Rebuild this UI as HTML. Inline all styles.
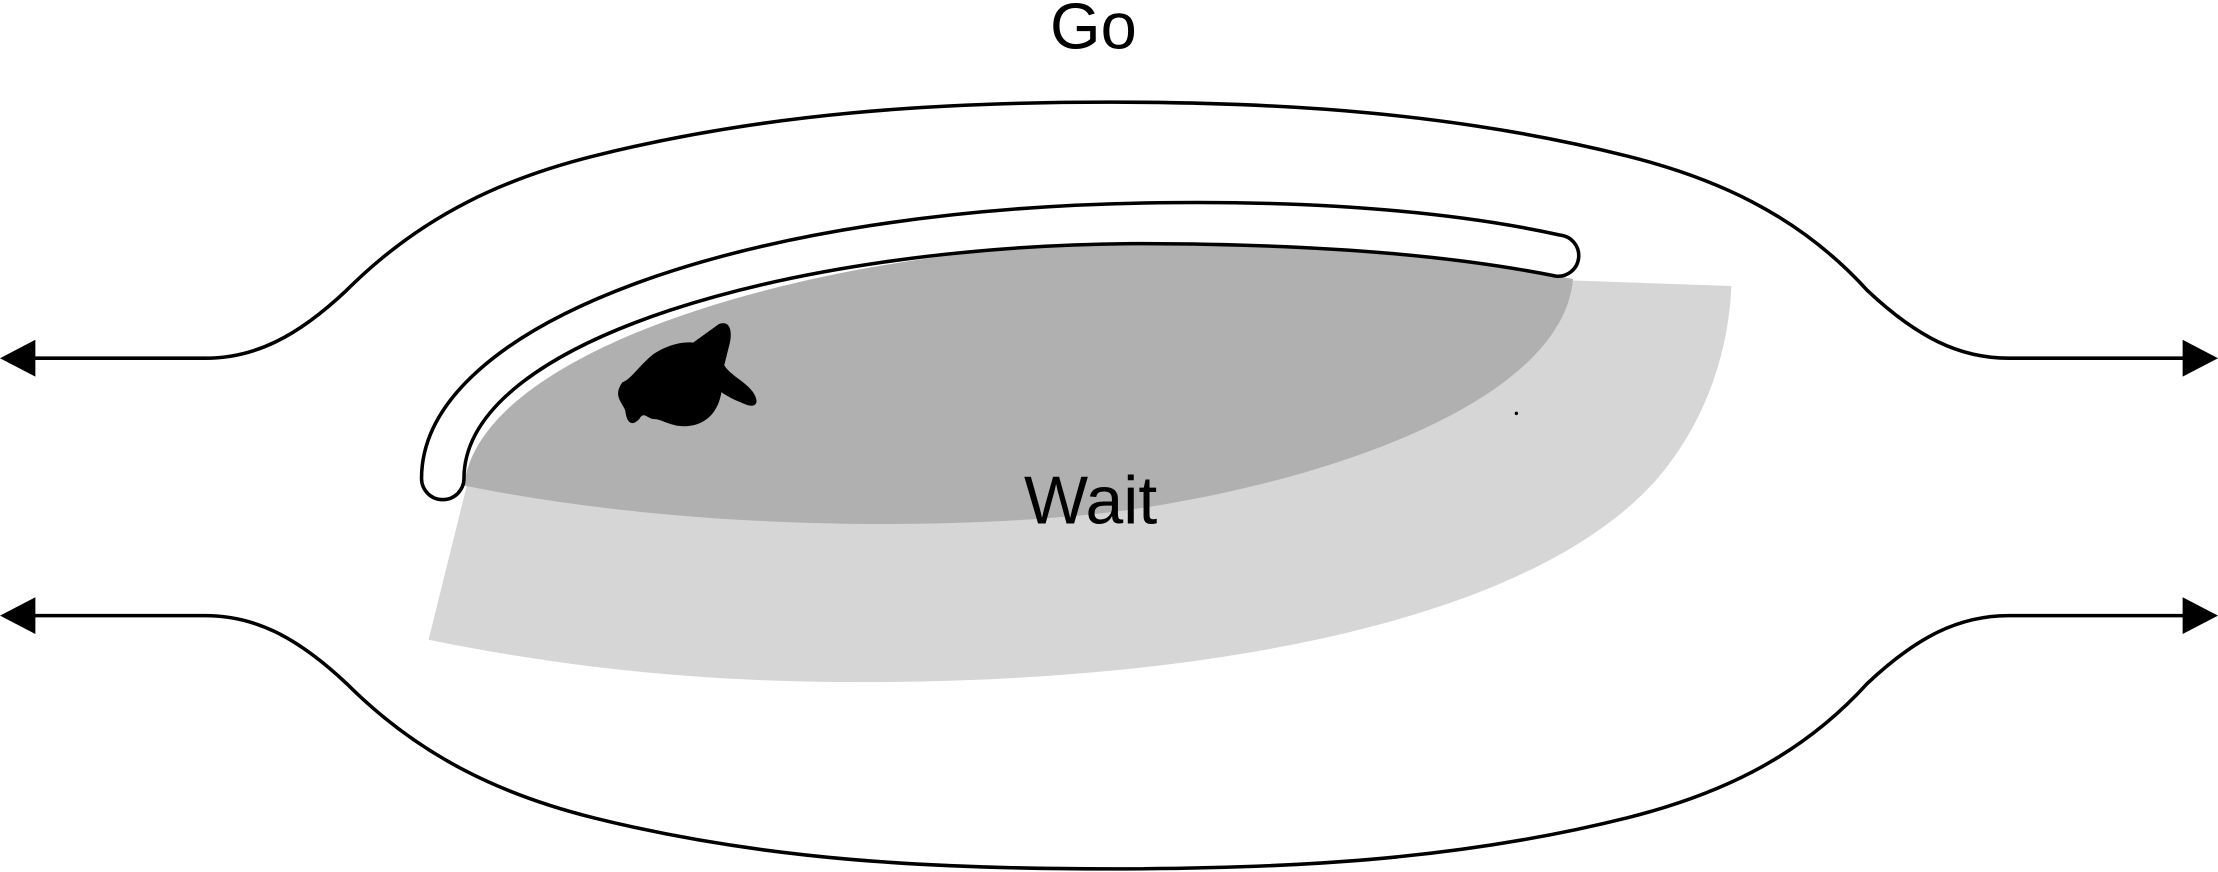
<!DOCTYPE html>
<html><head><style>html,body{margin:0;padding:0;background:#fff;}svg{display:block}</style></head>
<body>
<svg width="2218" height="872" viewBox="0 0 1568 616" xmlns="http://www.w3.org/2000/svg">
<rect width="1568" height="616" fill="#fff"/>
<path d="M330,343 L303,452 C420,476 520,482 610,482 C850,482 1080,440 1170,340 C1205,300 1222,250 1224,202 L1110,198 Z" fill="#d6d6d6"/>
<path d="M328,343 C340,240 600,172 800,172 C950,172 1050,185 1112,197 C1105,280 950,338 800,360 C700,374 500,378 328,343 Z" fill="#b0b0b0"/>
<path d="M298,338 C298,230 520,145 830,143 C950,142 1040,152 1103,166 A14,14 0 0 1 1100,195 C1040,183 950,172 800,172 C560,174 328,240 328,338 A15,15 0 0 1 298,338 Z" fill="#fff" stroke="#000" stroke-width="2.5"/>
<path d="M24,253 H145 C180,253 210,238 245,205 C300,150 360,125 420,110 C540,80 660,72 785,72 C910,72 1030,80 1150,110 C1210,125 1270,150 1320,205 C1355,238 1385,253 1420,253 H1545" fill="none" stroke="#000" stroke-width="2.5"/>
<path d="M24,435 H145 C180,435 210,450 245,483 C300,538 360,563 420,578 C540,608 660,614 785,614 C910,614 1030,608 1150,578 C1210,563 1270,538 1320,483 C1355,450 1385,435 1420,435 H1545" fill="none" stroke="#000" stroke-width="2.5"/>
<polygon points="0,253 25,240 25,266"/>
<polygon points="1568,253 1543,240 1543,266"/>
<polygon points="0,435 25,422 25,448"/>
<polygon points="1568,435 1543,422 1543,448"/>
<path d="M440,270 C446,268 452,258 462,250 C470,245 480,241 490,242 L508,229 C515,226 518,232 516,242 L512,258 C516,265 528,270 533,278 C537,285 534,288 528,286 C520,283 514,280 510,277 C508,290 500,300 486,301 C475,302 468,296 462,296 C458,296 455,290 452,296 C446,302 443,298 442,290 C440,284 433,280 440,270 Z"/>
<circle cx="1072" cy="292" r="1.2"/>
<text x="773" y="34" font-family="Liberation Sans, sans-serif" font-size="46" font-weight="300" text-anchor="middle">Go</text>
<text x="771" y="370" font-family="Liberation Sans, sans-serif" font-size="48" font-weight="300" text-anchor="middle">Wait</text>
</svg>
</body></html>
